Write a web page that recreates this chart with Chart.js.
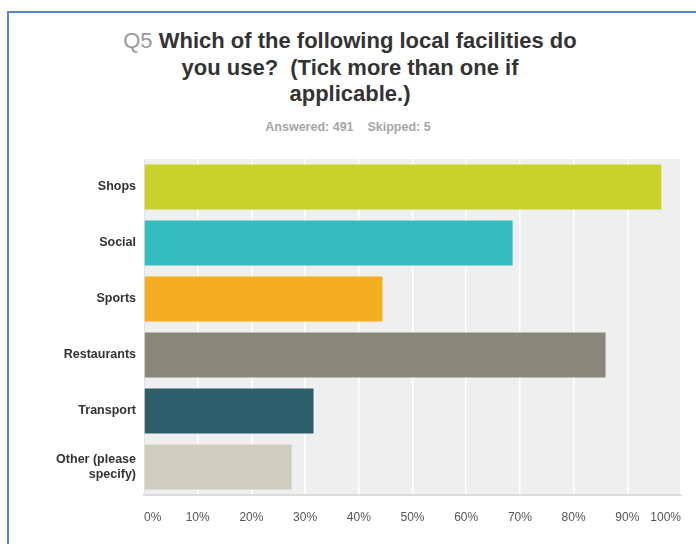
<!DOCTYPE html>
<html>
<head>
  <title>Q5 Local facilities</title>
  <style>
    html, body { margin: 0; padding: 0; background: #fff; }
    body { width: 696px; height: 544px; overflow: hidden; position: relative; font-family: "Liberation Sans", Arial, sans-serif; }
    .frame {
      position: absolute; left: 7px; top: 11px; right: -10px; bottom: -10px;
      border-left: 2px solid #5585c8; border-top: 2px solid #5585c8;
    }
    .title {
      position: absolute; left: 0; top: 28px; width: 700px;
      text-align: center; font-weight: bold; font-size: 22px; line-height: 26.5px;
      color: #333; white-space: pre;
    }
    .title .qnum { color: #999; font-weight: normal; }
    .stats {
      position: absolute; left: 0; top: 120px; width: 696px;
      text-align: center; font-weight: bold; font-size: 12.5px; color: #a6a6a6; white-space: pre;
    }
    canvas { position: absolute; left: 0; top: 0; }
  </style>
</head>
<body>
  <div class="frame"></div>
  <div class="title"><span class="qnum">Q5</span> Which of the following local facilities do
you use?  (Tick more than one if
applicable.)</div>
  <div class="stats">Answered: 491    Skipped: 5</div>
  <canvas id="chart" width="696" height="544"></canvas>

  <script src="https://cdn.jsdelivr.net/npm/chart.js@4"></script>
  <script>
    var facilities = ['Shops', 'Social', 'Sports', 'Restaurants', 'Transport', ['Other (please', 'specify)']];
    var percentUsed = [96.33, 68.64, 44.40, 85.95, 31.57, 27.49];
    var barColors = ['#c9d22a', '#33bdbf', '#f5ae1f', '#88887a', '#2d5e6b', '#cfcdc0'];
    var percentTicks = [0, 10, 20, 30, 40, 50, 60, 70, 80, 90, 100];

    // grey panel behind the bars
    var plotBackground = {
      id: 'plotBackground',
      beforeDraw: function(chart) {
        var a = chart.chartArea;
        var ctx = chart.ctx;
        ctx.save();
        ctx.fillStyle = '#efefef';
        ctx.fillRect(a.left, a.top, a.right - a.left, a.bottom - a.top);
        ctx.restore();
      }
    };

    new Chart(document.getElementById('chart'), {
      type: 'bar',
      data: {
        labels: facilities,
        datasets: [{
          data: percentUsed,
          backgroundColor: barColors,
          borderWidth: 0,
          categoryPercentage: 1,
          barPercentage: 0.8
        }]
      },
      options: {
        indexAxis: 'y',
        responsive: false,
        animation: false,
        layout: { padding: { top: 159, right: 15, left: 0, bottom: 0 } },
        plugins: {
          legend: { display: false },
          tooltip: { enabled: false }
        },
        scales: {
          x: {
            min: 0,
            max: 100,
            afterBuildTicks: function(scale) {
              scale.ticks = percentTicks.map(function(v) { return { value: v }; });
            },
            afterFit: function(scale) { scale.height = 49; },
            grid: { color: '#ffffff', lineWidth: 1.5, drawTicks: false },
            border: { color: '#dcdcdc', width: 2 },
            ticks: {
              align: 'inner',
              padding: 15,
              color: '#555',
              font: { family: '"Liberation Sans", Arial, sans-serif', size: 12 },
              callback: function(v) { return v + '%'; }
            }
          },
          y: {
            afterFit: function(scale) { scale.width = 144; },
            grid: { display: false, drawTicks: false },
            border: { color: '#e2e2e2', width: 1 },
            ticks: {
              padding: 8,
              color: '#333',
              font: { family: '"Liberation Sans", Arial, sans-serif', size: 12.5, weight: 'bold', lineHeight: 1.2 }
            }
          }
        }
      },
      plugins: [plotBackground]
    });
  </script>
</body>
</html>
